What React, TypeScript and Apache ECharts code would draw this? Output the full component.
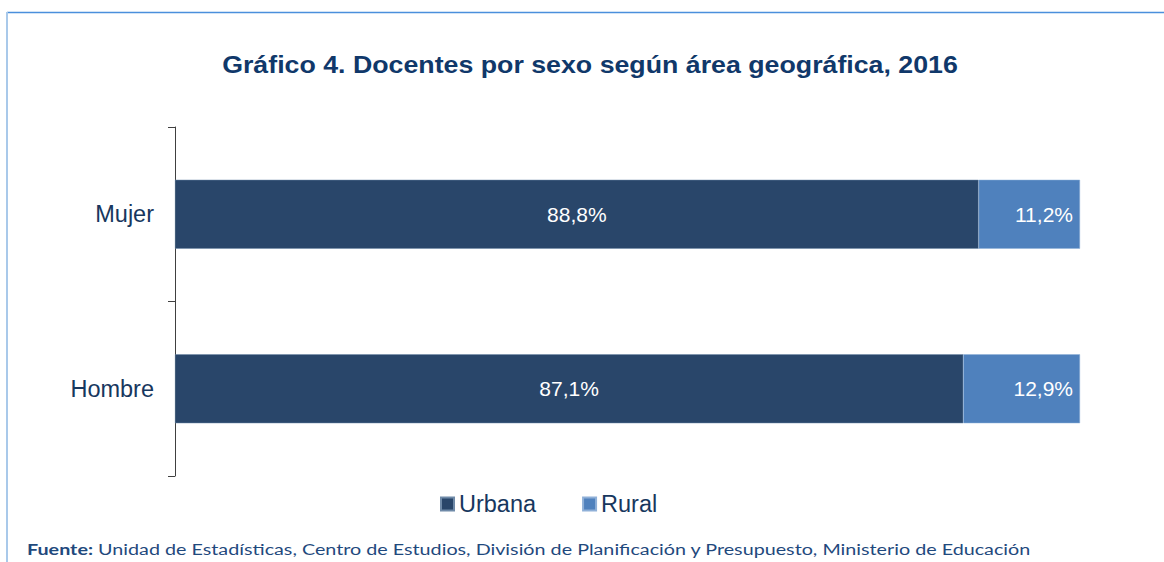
import React, { useEffect, useRef } from "react";
import * as echarts from "echarts";

const categories = ["Mujer", "Hombre"];
const urbana = [88.8, 87.1];
const rural = [11.2, 12.9];
const seriesNames = ["Urbana", "Rural"];
const titleText = "Gráfico 4. Docentes por sexo según área geográfica, 2016";
const sourceLabel = "Fuente:";
const sourceText = " Unidad de Estadísticas, Centro de Estudios, División de Planificación y Presupuesto, Ministerio de Educación";

const fmt = (v: number) => v.toFixed(1).replace(".", ",") + "%";
const SANS = "Liberation Sans, Arial, sans-serif";

export default function App() {
  const ref = useRef<HTMLDivElement>(null);
  useEffect(() => {
    if (!ref.current) return;
    const chart = echarts.init(ref.current, undefined, { renderer: "svg" });
    chart.setOption({
      animation: false,
      backgroundColor: "#ffffff",
      grid: { left: 175, top: 127, width: 905, height: 349, containLabel: false },
      xAxis: { type: "value", min: 0, max: 100, show: false },
      yAxis: {
        type: "category",
        data: categories,
        inverse: true,
        axisLine: { show: true, lineStyle: { color: "#404040", width: 1 } },
        axisTick: { show: true, length: 7, lineStyle: { color: "#404040" } },
        axisLabel: {
          color: "#17375e",
          fontSize: 23.5,
          fontFamily: SANS,
          margin: 21,
        },
        splitLine: { show: false },
      },
      legend: {
        data: seriesNames,
        left: 435,
        top: 487,
        itemWidth: 13,
        itemHeight: 13,
        itemGap: 46,
        icon: "rect",
        textStyle: {
          color: "#17375e",
          fontSize: 23.5,
          fontFamily: SANS,
        },
      },
      series: [
        {
          name: seriesNames[0],
          type: "bar",
          stack: "total",
          data: urbana,
          barWidth: 69,
          itemStyle: { color: "#29466a", borderColor: "#6f8aa8", borderWidth: 0.5 },
          label: {
            show: true,
            position: "inside",
            color: "#ffffff",
            fontSize: 21,
            fontFamily: SANS,
            formatter: (p: any) => fmt(p.value),
          },
        },
        {
          name: seriesNames[1],
          type: "bar",
          stack: "total",
          data: rural,
          barWidth: 69,
          itemStyle: { color: "#4f81bd", borderColor: "#8fb0d8", borderWidth: 0.5 },
          label: {
            show: true,
            position: "insideRight",
            distance: 7,
            color: "#ffffff",
            fontSize: 21,
            fontFamily: SANS,
            formatter: (p: any) => fmt(p.value),
          },
        },
      ],
      graphic: [
        {
          type: "line",
          shape: { x1: 7, y1: 12.5, x2: 1164, y2: 12.5 },
          style: { stroke: "#4a8fdc", lineWidth: 1.5 },
        },
        {
          type: "line",
          shape: { x1: 7, y1: 12, x2: 7, y2: 562 },
          style: { stroke: "#a9c9ea", lineWidth: 2 },
        },
        {
          type: "text",
          x: 590,
          y: 65,
          scaleX: 1.163,
          style: {
            text: titleText,
            textAlign: "center",
            textVerticalAlign: "middle",
            fill: "#10386a",
            fontSize: 23,
            fontWeight: "bold",
            fontFamily: SANS,
          },
        },
        {
          type: "text",
          x: 27,
          y: 549,
          scaleX: 1.234,
          style: {
            text: "{b|" + sourceLabel + "}{n|" + sourceText + "}",
            textVerticalAlign: "middle",
            rich: {
              b: { fontWeight: "bold", fontSize: 16, fill: "#1f497d", fontFamily: "Lato, sans-serif" },
              n: { fontSize: 16, fill: "#1f497d", fontFamily: "Lato, sans-serif" },
            },
          },
        },
      ],
    });
    return () => chart.dispose();
  }, []);
  return (
    <div
      ref={ref}
      style={{ position: "absolute", left: 0, top: 0, width: 1164, height: 562 }}
    />
  );
}
